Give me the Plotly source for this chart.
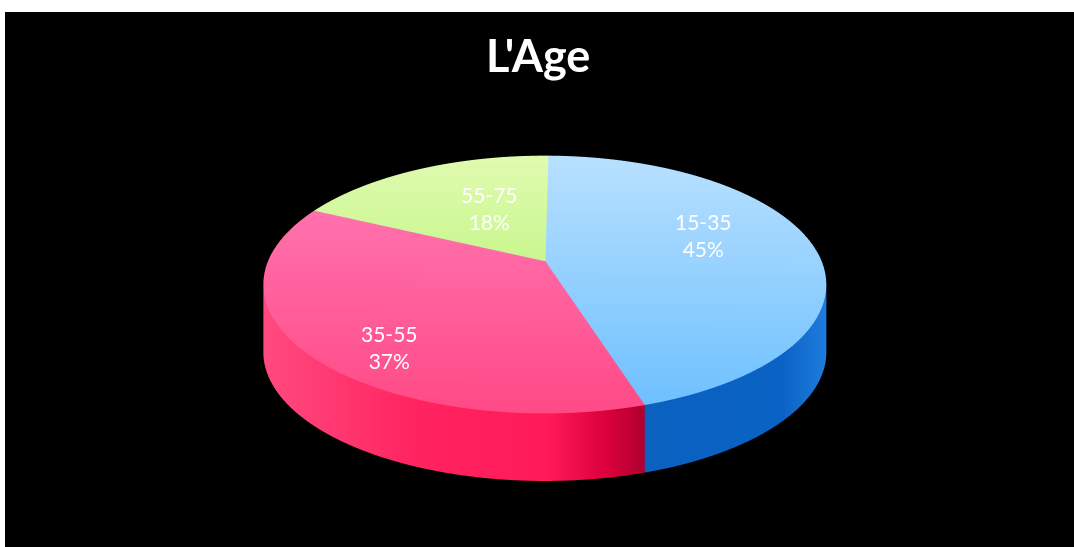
import numpy as np
import plotly.graph_objects as go

# Data
age_groups = ["15-35", "35-55", "55-75"]
shares = [45, 37, 18]

# Colour ramps: top runs front to back, side runs left to right
top_scales = [
    [[0, "#6CBFFF"], [1, "#B8E0FF"]],
    [[0, "#FF4A86"], [1, "#FF7CB8"]],
    [[0, "#A8F060"], [1, "#E0FBB0"]],
]
side_scales = [
    [[0, "#0F6EE0"], [0.2, "#0A60BE"], [0.85, "#0A62C4"], [1, "#1E7CDC"]],
    [[0, "#FF4A80"], [0.4, "#FF2460"], [0.75, "#FF1A58"], [0.9, "#DC003C"], [1, "#B00030"]],
    [[0, "#7FC040"], [1, "#A8E060"]],
]

THICKNESS = 0.27
# plotly's perspective fov is fixed, so the camera is orthographic and the
# foreshortening of the disc (apex pushed to the back) is done here
PERSPECTIVE = 0.18


def warp(x, y):
    k = PERSPECTIVE
    denom = 1 + k * y
    return x * np.sqrt(1 - k ** 2) / denom, (y + k) / denom


def wedge_top(start, end):
    t = np.radians(np.linspace(start, end, 120))
    r = np.linspace(0, 1, 2)
    tt, rr = np.meshgrid(t, r)
    x, y = warp(rr * np.sin(tt), rr * np.cos(tt))
    return x, y, np.zeros_like(tt)


def wedge_side(start, end):
    t = np.radians(np.linspace(start, end, 120))
    z = np.array([0, -THICKNESS])
    tt, zz = np.meshgrid(t, z)
    x, y = warp(np.sin(tt), np.cos(tt))
    return x, y, zz


flat = dict(ambient=1, diffuse=0, specular=0, roughness=1, fresnel=0)

fig = go.Figure()
angle = 0
for share, top_scale, side_scale in zip(shares, top_scales, side_scales):
    end = angle + share * 3.6

    x, y, z = wedge_top(angle, end)
    fig.add_trace(go.Surface(
        x=x, y=y, z=z, surfacecolor=y, cmin=-1, cmax=1,
        colorscale=top_scale, showscale=False, lighting=flat, hoverinfo="skip",
    ))

    x, y, z = wedge_side(angle, end)
    fig.add_trace(go.Surface(
        x=x, y=y, z=z, surfacecolor=x, cmin=x.min(), cmax=x.max(),
        colorscale=side_scale, showscale=False, lighting=flat, hoverinfo="skip",
    ))
    angle = end

hidden = dict(visible=False)
fig.update_layout(
    width=1074,
    height=547,
    margin=dict(l=0, r=0, t=0, b=0),
    paper_bgcolor="white",
    showlegend=False,
    scene=dict(
        domain=dict(x=[5 / 1074, 1], y=[0, 535 / 547]),
        bgcolor="black",
        xaxis=dict(hidden, range=[-1.05, 1.05]),
        yaxis=dict(hidden, range=[-1.05, 1.05]),
        zaxis=dict(hidden, range=[-1.05, 1.05]),
        aspectmode="manual",
        aspectratio=dict(x=2.21, y=2.21, z=2.21),
        camera=dict(
            eye=dict(x=0, y=-1.6, z=0.845),
            center=dict(x=-0.02, y=0, z=0.021),
            up=dict(x=0, y=0, z=1),
            projection=dict(type="orthographic"),
        ),
    ),
    annotations=[
        dict(text="<b>L'Age</b>", x=538 / 1074, y=1 - 55 / 547, font=dict(size=45, color="white")),
        dict(text=f"{age_groups[0]}<br>{shares[0]}%", x=703 / 1074, y=1 - 235 / 547, font=dict(size=21, color="white")),
        dict(text=f"{age_groups[1]}<br>{shares[1]}%", x=389 / 1074, y=1 - 347 / 547, font=dict(size=21, color="white")),
        dict(text=f"{age_groups[2]}<br>{shares[2]}%", x=489 / 1074, y=1 - 208 / 547, font=dict(size=21, color="white")),
    ],
)
fig.update_annotations(xref="paper", yref="paper", showarrow=False, xanchor="center", yanchor="middle", font_family="Lato")

fig.write_html(
    "out.html",
    config=dict(displayModeBar=False),
    post_script="document.body.style.margin='0';",
)
